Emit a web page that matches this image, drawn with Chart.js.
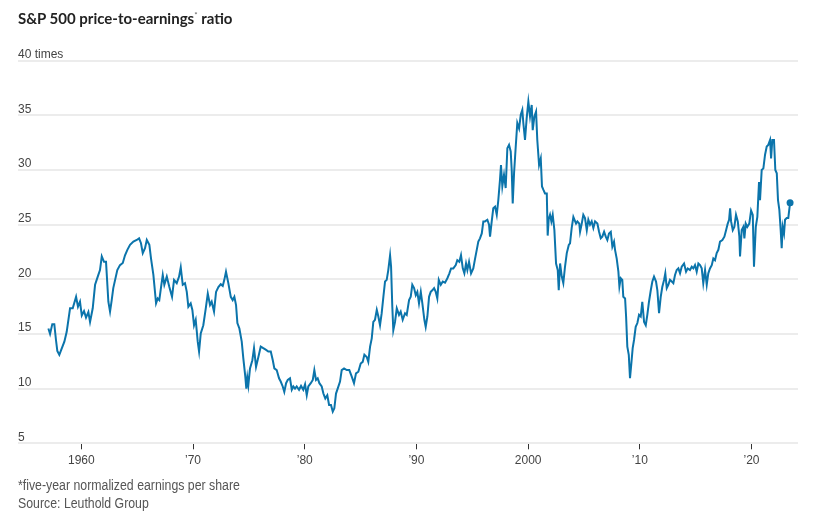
<!DOCTYPE html>
<html>
<head>
<meta charset="utf-8">
<script src="https://cdn.jsdelivr.net/npm/chart.js@4"></script>
<style>
  body { margin: 0; background: #fff; }
  #wrap { position: relative; width: 815px; height: 521px; overflow: hidden; }
  #pe-chart { position: absolute; left: 0; top: 0; }
  .title { position: absolute; left: 18px; top: 9px; font: 700 15px 'Lato', 'Open Sans', sans-serif; color: #222; }
  .title sup { font-size: 8px; font-weight: 400; color: #666; }
  .note { position: absolute; left: 18px; font: 14px 'Liberation Sans', sans-serif; color: #555;
          transform: scaleX(0.88); transform-origin: left top; white-space: nowrap; }
</style>
</head>
<body>
<div id="wrap">
  <canvas id="pe-chart" width="815" height="521"></canvas>
  <div class="title">S&amp;P 500 price-to-earnings<sup>*</sup> ratio</div>
  <div class="note" style="top:477px;">*five-year normalized earnings per share</div>
  <div class="note" style="top:495px;">Source: Leuthold Group</div>
</div>
<script>
// decimal years
const years = [
    1957.05, 1957.20, 1957.40, 1957.58, 1957.73, 1957.85, 1958.03, 1958.18, 1958.48, 1958.69,
    1958.99, 1959.23, 1959.53, 1959.70, 1959.88, 1960.04, 1960.24, 1960.42, 1960.63, 1960.78,
    1961.02, 1961.23, 1961.47, 1961.67, 1961.83, 1962.03, 1962.21, 1962.42, 1962.57, 1962.72,
    1962.86, 1963.22, 1963.46, 1963.71, 1963.91, 1964.12, 1964.36, 1964.66, 1964.96, 1965.17,
    1965.34, 1965.50, 1965.70, 1965.86, 1966.09, 1966.24, 1966.45, 1966.69, 1966.84, 1966.98,
    1967.14, 1967.29, 1967.43, 1967.65, 1967.88, 1968.12, 1968.30, 1968.54, 1968.75, 1968.90,
    1969.08, 1969.28, 1969.44, 1969.58, 1969.79, 1969.94, 1970.09, 1970.24, 1970.42, 1970.54,
    1970.69, 1970.92, 1971.14, 1971.32, 1971.52, 1971.67, 1971.88, 1972.06, 1972.27, 1972.48,
    1972.66, 1972.80, 1972.95, 1973.16, 1973.38, 1973.55, 1973.70, 1973.85, 1973.97, 1974.15,
    1974.36, 1974.50, 1974.68, 1974.77, 1974.86, 1974.95, 1975.10, 1975.31, 1975.46, 1975.64,
    1975.85, 1976.06, 1976.29, 1976.54, 1976.74, 1976.96, 1977.14, 1977.28, 1977.49, 1977.70,
    1977.85, 1978.03, 1978.17, 1978.33, 1978.48, 1978.68, 1978.84, 1978.98, 1979.13, 1979.28,
    1979.49, 1979.67, 1979.87, 1980.03, 1980.18, 1980.32, 1980.54, 1980.72, 1980.86, 1981.01,
    1981.16, 1981.31, 1981.52, 1981.67, 1981.84, 1982.02, 1982.18, 1982.35, 1982.51, 1982.65,
    1982.80, 1982.95, 1983.16, 1983.31, 1983.52, 1983.76, 1983.99, 1984.21, 1984.41, 1984.59,
    1984.80, 1985.01, 1985.19, 1985.34, 1985.55, 1985.69, 1985.85, 1986.00, 1986.14, 1986.29,
    1986.45, 1986.59, 1986.74, 1986.89, 1987.04, 1987.19, 1987.34, 1987.48, 1987.64, 1987.73,
    1987.84, 1987.93, 1988.08, 1988.24, 1988.44, 1988.59, 1988.77, 1988.98, 1989.13, 1989.34,
    1989.49, 1989.63, 1989.79, 1989.94, 1990.08, 1990.23, 1990.39, 1990.53, 1990.71, 1990.83,
    1990.98, 1991.13, 1991.28, 1991.42, 1991.58, 1991.73, 1991.87, 1992.00, 1992.18, 1992.36,
    1992.56, 1992.77, 1992.95, 1993.10, 1993.30, 1993.52, 1993.66, 1993.84, 1993.99, 1994.15,
    1994.29, 1994.44, 1994.56, 1994.71, 1994.89, 1995.09, 1995.25, 1995.40, 1995.54, 1995.69,
    1995.85, 1995.99, 1996.14, 1996.35, 1996.50, 1996.59, 1996.74, 1996.88, 1997.04, 1997.19,
    1997.33, 1997.48, 1997.57, 1997.69, 1997.84, 1997.99, 1998.14, 1998.29, 1998.44, 1998.53,
    1998.62, 1998.74, 1998.89, 1999.03, 1999.19, 1999.34, 1999.48, 1999.57, 1999.72, 1999.87,
    2000.02, 2000.17, 2000.32, 2000.41, 2000.56, 2000.71, 2000.82, 2000.98, 2001.13, 2001.24,
    2001.36, 2001.51, 2001.67, 2001.75, 2001.84, 2001.96, 2002.08, 2002.20, 2002.35, 2002.50,
    2002.65, 2002.74, 2002.86, 2003.01, 2003.15, 2003.30, 2003.46, 2003.64, 2003.75, 2003.90,
    2004.05, 2004.29, 2004.41, 2004.58, 2004.65, 2004.80, 2004.94, 2005.09, 2005.25, 2005.39,
    2005.54, 2005.69, 2005.84, 2005.99, 2006.20, 2006.35, 2006.50, 2006.64, 2006.80, 2006.95,
    2007.09, 2007.24, 2007.40, 2007.54, 2007.69, 2007.78, 2007.93, 2008.08, 2008.17, 2008.29,
    2008.43, 2008.52, 2008.68, 2008.77, 2008.88, 2009.01, 2009.12, 2009.24, 2009.36, 2009.48,
    2009.63, 2009.78, 2009.93, 2010.08, 2010.22, 2010.38, 2010.53, 2010.67, 2010.82, 2010.98,
    2011.12, 2011.27, 2011.45, 2011.57, 2011.72, 2011.87, 2012.01, 2012.17, 2012.28, 2012.41,
    2012.55, 2012.70, 2012.86, 2013.00, 2013.15, 2013.30, 2013.45, 2013.60, 2013.75, 2013.96,
    2014.14, 2014.29, 2014.49, 2014.65, 2014.79, 2014.94, 2015.09, 2015.24, 2015.39, 2015.54,
    2015.68, 2015.84, 2015.99, 2016.13, 2016.28, 2016.44, 2016.58, 2016.73, 2016.88, 2017.03,
    2017.18, 2017.39, 2017.57, 2017.72, 2017.87, 2017.99, 2018.08, 2018.17, 2018.32, 2018.46,
    2018.61, 2018.77, 2018.91, 2018.97, 2019.12, 2019.27, 2019.36, 2019.48, 2019.62, 2019.80,
    2019.96, 2020.11, 2020.22, 2020.38, 2020.52, 2020.67, 2020.76, 2020.91, 2021.06, 2021.21,
    2021.36, 2021.50, 2021.66, 2021.75, 2021.86, 2022.01, 2022.13, 2022.26, 2022.37, 2022.49,
    2022.61, 2022.70, 2022.79, 2022.91, 2023.00, 2023.15, 2023.29, 2023.45
];

const peValues = [
    15.5, 15.0, 15.9, 15.9, 14.45, 13.45, 13.1, 13.5, 14.3, 15.2,
    17.35, 17.35, 18.4, 17.5, 17.95, 16.7, 17.1, 16.5, 17.0, 16.1,
    17.35, 19.5, 20.25, 20.85, 22.1, 21.6, 21.6, 17.95, 17.05, 18.1,
    19.2, 20.85, 21.3, 21.5, 22.2, 22.7, 23.15, 23.45, 23.6, 23.75,
    23.3, 22.4, 22.85, 23.6, 23.15, 21.9, 20.4, 17.8, 18.25, 18.1,
    19.3, 20.4, 19.5, 20.25, 19.3, 18.4, 19.95, 19.65, 20.25, 21.1,
    19.5, 19.65, 18.85, 17.5, 17.8, 17.2, 15.8, 16.3, 14.3, 13.4,
    15.05, 15.8, 17.35, 18.7, 17.65, 17.95, 17.05, 18.85, 19.3, 19.55,
    19.4, 19.95, 20.7, 19.65, 18.4, 18.1, 18.4, 17.65, 16.0, 15.5,
    14.3, 12.8, 11.1, 10.0, 11.0, 10.3, 11.85, 12.6, 13.7, 12.0,
    12.9, 13.85, 13.7, 13.55, 13.4, 13.4, 12.6, 11.85, 11.7, 10.95,
    10.65, 10.2, 9.7, 10.5, 10.8, 10.95, 9.9, 10.2, 10.0, 10.2,
    9.9, 10.25, 9.9, 10.4, 9.4, 10.2, 10.5, 10.8, 11.7, 10.8,
    10.95, 10.5, 10.2, 9.55, 9.1, 9.4, 8.5, 8.5, 7.9, 8.2,
    9.55, 10.0, 10.65, 11.7, 11.85, 11.7, 11.7, 11.1, 10.5, 11.4,
    11.55, 12.3, 12.45, 13.1, 12.9, 12.45, 13.85, 14.6, 16.1, 16.3,
    17.2, 16.6, 15.8, 16.9, 18.4, 19.8, 19.95, 20.85, 22.2, 21.15,
    17.5, 15.35, 16.1, 17.35, 16.75, 17.05, 16.3, 16.9, 16.75, 18.1,
    18.4, 19.5, 19.2, 18.55, 18.85, 17.8, 18.85, 17.8, 16.3, 15.65,
    16.6, 18.4, 18.85, 19.0, 19.2, 18.85, 18.25, 19.95, 19.5, 19.8,
    19.7, 20.1, 20.55, 21.0, 21.0, 21.3, 21.75, 21.6, 22.2, 21.0,
    20.55, 21.45, 20.85, 21.6, 20.55, 21.0, 21.9, 22.7, 23.45, 23.75,
    24.2, 25.3, 25.3, 25.45, 25.0, 23.9, 25.3, 26.5, 26.65, 25.9,
    27.25, 29.1, 30.45, 28.5, 29.55, 28.35, 32.0, 32.3, 31.7, 30.0,
    26.95, 29.7, 32.15, 34.3, 33.8, 35.05, 35.5, 34.3, 32.75, 34.75,
    36.25, 34.9, 35.95, 33.65, 34.9, 35.35, 32.75, 30.45, 31.05, 28.5,
    28.2, 27.85, 27.85, 24.0, 25.5, 25.9, 25.3, 25.9, 24.5, 21.45,
    20.85, 19.0, 21.45, 20.25, 19.65, 21.15, 22.4, 23.15, 23.3, 24.7,
    25.7, 25.1, 25.3, 25.1, 24.35, 25.1, 25.9, 25.6, 24.5, 25.45,
    25.0, 25.3, 24.7, 25.3, 25.1, 24.35, 23.75, 23.9, 24.35, 23.9,
    23.6, 24.2, 24.35, 23.0, 23.45, 22.7, 21.9, 20.7, 19.35, 20.1,
    19.95, 18.4, 18.25, 16.6, 13.85, 13.1, 10.95, 12.3, 13.7, 14.45,
    15.65, 16.0, 16.75, 16.6, 17.95, 16.1, 15.8, 16.75, 17.95, 19.0,
    19.8, 20.25, 19.8, 19.0, 16.9, 18.4, 19.3, 19.95, 20.55, 19.2,
    19.5, 19.95, 19.8, 19.65, 20.4, 20.85, 21.0, 20.55, 21.15, 21.45,
    20.7, 21.0, 20.85, 21.15, 21.0, 21.3, 20.7, 21.45, 21.3, 21.0,
    19.65, 20.85, 19.5, 20.55, 21.0, 21.3, 21.9, 21.75, 22.4, 22.7,
    23.45, 23.6, 23.9, 24.5, 25.1, 25.45, 26.5, 25.3, 24.5, 24.8,
    25.9, 25.3, 23.9, 22.1, 24.5, 24.8, 23.75, 25.1, 24.8, 25.1,
    26.3, 25.9, 21.15, 24.8, 25.7, 28.9, 27.25, 30.0, 30.15, 31.4,
    32.15, 32.3, 32.75, 31.05, 32.75, 32.75, 30.0, 29.7, 27.25, 26.35,
    24.5, 22.85, 24.8, 24.2, 25.45, 25.6, 25.6, 27.0
];

const decadeTicks = [1960, 1970, 1980, 1990, 2000, 2010, 2020];
const yTicks = [5, 10, 15, 20, 25, 30, 35, 40];

const axisFont = { family: "'Liberation Sans', Arial, sans-serif", size: 12 };
const lastIdx = peValues.length - 1;

function decadeLabel(v) {
    if (v === 1960 || v === 2000) return String(v);
    return '\u2019' + String(v).slice(2);
}

const ctx = document.getElementById('pe-chart').getContext('2d');
new Chart(ctx, {
    type: 'line',
    data: {
        datasets: [{
            data: years.map((yr, i) => ({ x: yr, y: peValues[i] })),
            borderColor: '#0b74ab',
            backgroundColor: '#0b74ab',
            borderWidth: 2,
            tension: 0,
            pointRadius: c => c.dataIndex === lastIdx ? 3.5 : 0,
            pointHoverRadius: 0,
            pointBorderWidth: 0
        }]
    },
    options: {
        responsive: false,
        animation: false,
        devicePixelRatio: 1,
        layout: { padding: { top: 60.7, left: 18, right: 17, bottom: 0 } },
        plugins: { legend: { display: false }, tooltip: { enabled: false } },
        scales: {
            x: {
                type: 'linear',
                min: 1954.33,
                max: 2024.16,
                afterBuildTicks: axis => { axis.ticks = decadeTicks.map(v => ({ value: v })); },
                afterFit: axis => { axis.height = 521 - 443.3; },
                border: { display: false },
                grid: { drawOnChartArea: false, drawTicks: true, tickLength: 6, color: '#333', lineWidth: 1 },
                ticks: { color: '#444', font: axisFont, padding: 4, maxRotation: 0, autoSkip: false,
                         callback: v => decadeLabel(v) }
            },
            y: {
                min: 5,
                max: 40,
                afterBuildTicks: axis => { axis.ticks = yTicks.map(v => ({ value: v })); },
                afterFit: axis => { axis.width = 0; },
                border: { display: false },
                grid: { color: '#ececec', lineWidth: 2, drawTicks: false },
                ticks: { mirror: true, padding: 0, labelOffset: -6, color: '#444', font: axisFont,
                         callback: v => v === 40 ? '40 times' : String(v) }
            }
        }
    }
});
</script>
</body>
</html>
